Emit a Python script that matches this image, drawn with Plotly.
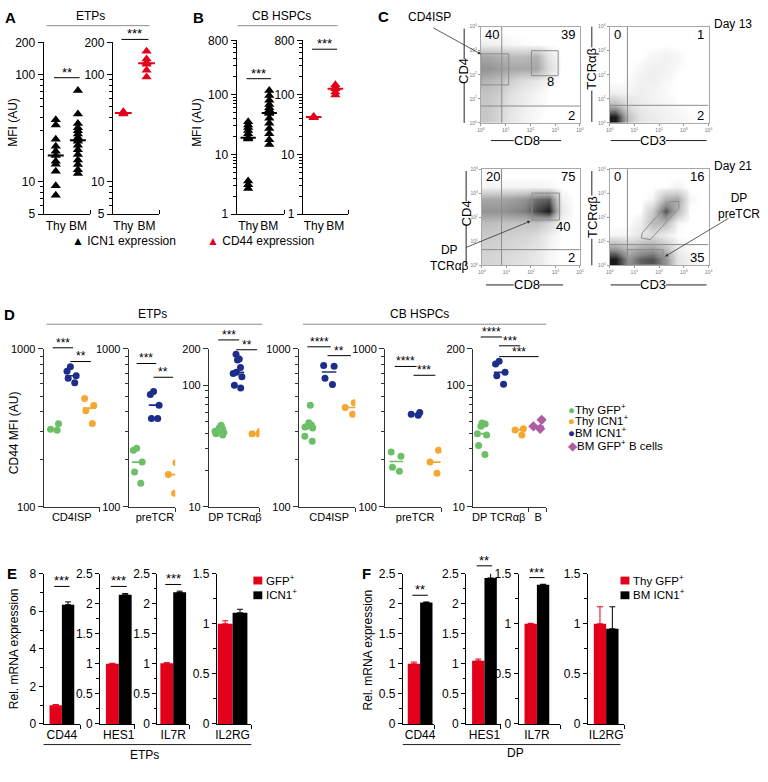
import numpy as np
import plotly.graph_objects as go

W, H = 768, 782
FONT = "Liberation Sans, Arial, Helvetica, sans-serif"

# ---------------- data: panels A / B (MFI, AU) ----------------
AB_groups = ["Thy", "BM"]
A_icn1_thy = [38, 34, 25, 21.5, 19.3, 17.6, 15.6, 14.6, 12.6, 9.2, 7.5]
A_icn1_bm = [71, 43, 35, 32, 30, 28, 26, 25, 24, 22, 20, 18, 16, 14.5, 13, 12]
A_cd44_thy = [45, 44, 43]
A_cd44_bm = [165, 140, 130, 125, 110, 95]
B_icn1_thy = [35, 31, 28, 25, 22, 19, 18.5, 18, 3.6, 3.1, 2.7]
B_icn1_bm = [116, 96, 80, 68, 60, 55, 50, 48, 40, 33, 27, 22, 17.6, 14.6]
B_cd44_thy = [43, 42, 41]
B_cd44_bm = [145, 132, 125, 110, 98]
AB_stars = ["**", "***", "***", "***"]

# ---------------- data: panel C (flow cytometry, density on log10 axes) ----------------
flow_bins = [0.25, 0.75, 1.25, 1.75, 2.25, 2.75, 3.25, 3.75]
flow_ticks = ["10<sup>0</sup>", "10<sup>1</sup>", "10<sup>2</sup>", "10<sup>3</sup>", "10<sup>4</sup>"]
d13_cd4_cd8 = [
    [.28, .18, .08, .04, .01, 0, 0, 0],
    [.28, .20, .10, .05, .02, 0, 0, 0],
    [.30, .24, .12, .07, .03, 0, 0, 0],
    [.38, .32, .22, .14, .08, .02, 0, 0],
    [.55, .50, .45, .45, .45, .15, 0, 0],
    [.45, .40, .35, .35, .40, .10, 0, 0],
    [.05, .04, .02, .01, 0, 0, 0, 0],
    [0, 0, 0, 0, 0, 0, 0, 0]]
d13_tcr_cd3 = [
    [1.0, .30, .10, .06, .04, .03, .01, 0],
    [.35, .12, .06, .04, .03, .01, 0, 0],
    [.04, .03, .05, .03, .01, 0, 0, 0],
    [0, .01, .04, .05, .02, 0, 0, 0],
    [0, 0, .02, .05, .04, .01, 0, 0],
    [0, 0, 0, .02, .04, .02, 0, 0],
    [0, 0, 0, 0, 0, 0, 0, 0],
    [0, 0, 0, 0, 0, 0, 0, 0]]
d21_cd4_cd8 = [
    [.20, .18, .15, .12, .08, .02, 0, 0],
    [.22, .20, .18, .15, .10, .03, 0, 0],
    [.26, .24, .22, .20, .15, .05, 0, 0],
    [.33, .30, .30, .30, .30, .18, 0, 0],
    [.55, .55, .60, .65, .85, 1.0, .08, 0],
    [.45, .45, .50, .55, .70, .75, .04, 0],
    [.03, .03, .03, .03, .03, .02, 0, 0],
    [0, 0, 0, 0, 0, 0, 0, 0]]
d21_tcr_cd3 = [
    [1.0, .55, .75, .80, .55, .10, .03, 0],
    [.45, .30, .40, .45, .30, .05, .01, 0],
    [.02, .03, .10, .15, .05, 0, 0, 0],
    [0, 0, .05, .35, .35, .02, 0, 0],
    [0, 0, 0, .25, .80, .35, 0, 0],
    [0, 0, 0, .02, .40, .45, .02, 0],
    [0, 0, 0, 0, 0, .03, 0, 0],
    [0, 0, 0, 0, 0, 0, 0, 0]]
flow_quadrant_pct = [["40", "39", "2"], ["0", "1", "2"], ["20", "75", "2"], ["0", "16", "35"]]  # UL, UR, LR
flow_quadrant_cut = [(0.84, 0.70), (0.72, 0.73), (0.80, 0.65), (0.72, 0.86)]  # (x, y) log10
flow_gate_pct = ["8", "40"]

# ---------------- data: panel D (CD44 MFI, AU) ----------------
D_subsets = ["CD4ISP", "preTCR", "DP TCRαβ", "CD4ISP", "preTCR", "DP TCRαβ"]
D_series = ["Thy GFP<sup>+</sup>", "Thy ICN1<sup>+</sup>", "BM ICN1<sup>+</sup>", "BM GFP<sup>+</sup> B cells"]
D_thy_gfp = [[335, 310, 305], [235, 228, 192, 166, 141], [47, 45, 44, 43, 42, 41, 40, 39],
             [440, 340, 330, 325, 320, 315, 280, 260], [222, 209, 178, 168], [49, 48, 46, 40, 39, 32, 27]]
D_bm_icn1 = [[770, 720, 675, 650, 610], [536, 514, 440, 362, 362], [180, 165, 162, 140, 128, 125, 118, 100, 95],
             [785, 775, 650, 595], [395, 385, 380], [158, 150, 128, 120, 102]]
D_thy_icn1 = [[485, 437, 406, 337], [190, 160, 122], [42, 40, 40], [455, 425, 385], [228, 192, 163], [44, 43, 39]]
D_bm_gfp_b = [[], [], [], [], [], [52, 46, 44]]
D_stars = [["***", "**"], ["***", "**"], ["***", "**"], ["****", "**"], ["****", "***"], ["****", "***", "***"]]

# ---------------- data: panels E / F (relative mRNA expression) ----------------
genes = ["CD44", "HES1", "IL7R", "IL2RG"]
E_gfp = [1.0, 1.0, 1.01, 1.0]
E_gfp_err = [0.03, 0.01, 0.01, 0.03]
E_icn1 = [6.35, 2.15, 2.19, 1.11]
E_icn1_err = [0.15, 0.02, 0.02, 0.035]
E_stars = ["***", "***", "***", ""]
F_gfp = [1.0, 1.05, 1.0, 1.0]
F_gfp_err = [0.03, 0.03, 0.005, 0.17]
F_icn1 = [2.02, 2.43, 1.39, 0.95]
F_icn1_err = [0.01, 0.16, 0.005, 0.22]
F_stars = ["**", "**", "***", ""]

# ---------------- style ----------------
GREEN, ORANGE, NAVY, PURPLE = "#6cbf66", "#f5a731", "#1c2e8a", "#b05ca5"
RED = "#e3001b"
GREY = "#8c8c8c"
FLOW_CS = [[0, "rgba(255,255,255,0)"], [0.01, "rgba(250,250,250,1)"], [0.06, "#ececec"],
           [0.3, "#c4c4c4"], [0.6, "#8a8a8a"], [1, "#1a1a1a"]]

# subplot geometry in pixels: (x_left, x_right, y_top, y_bottom)
GEO = {
    1: (40, 87, 36, 211), 2: (110, 157, 36, 211), 3: (235, 283, 34, 211), 4: (302, 348, 34, 211),
    5: (482, 582, 20, 118), 6: (612, 712, 20, 118), 7: (483, 582, 165, 263), 8: (612, 712, 165, 263),
    9: (40, 97, 348, 509), 10: (126, 173, 348, 509), 11: (207, 258, 348, 509),
    12: (298, 355, 348, 509), 13: (385, 442, 348, 509), 14: (474, 548, 348, 509),
    15: (40, 77, 577, 730), 16: (97, 132, 577, 730), 17: (155, 187, 577, 730), 18: (215, 250, 577, 730),
    19: (403, 435, 577, 730), 20: (467, 502, 577, 730), 21: (520, 562, 577, 730), 22: (590, 627, 577, 730),
}

fig = go.Figure()
L = dict(width=W, height=H, autosize=False, margin=dict(l=0, r=0, t=0, b=0),
         paper_bgcolor="white", plot_bgcolor="rgba(0,0,0,0)", showlegend=False,
         barmode="overlay", font=dict(family=FONT, size=12, color="black"))
shapes, annos = [], []


def xp(v):
    return v / W


def yp(v):
    return 1 - v / H


def axn(k, a):
    return f"{a}axis" if k == 1 else f"{a}axis{k}"


def rf(k, a):
    return a if k == 1 else f"{a}{k}"


def set_axes(k, xkw, ykw):
    x0, x1, yt, yb = GEO[k]
    base = dict(showgrid=False, zeroline=False, showline=True, linecolor="black", linewidth=1,
                tickcolor="black", tickwidth=1, tickangle=0)
    xa = dict(base, domain=[xp(x0), xp(x1)], anchor=rf(k, "y"))
    xa.update(xkw)
    ya = dict(base, domain=[yp(yb), yp(yt)], anchor=rf(k, "x"))
    ya.update(ykw)
    L[axn(k, "x")] = xa
    L[axn(k, "y")] = ya


def log_y(lo, hi, major, minor, size, color="black"):
    return dict(type="log", range=[np.log10(lo) - 1e-4, np.log10(hi) + 1e-4], tickmode="array",
                tickvals=major, ticktext=[f"{v:g}" for v in major], ticks="outside", ticklen=5,
                tickfont=dict(size=size), linecolor=color, tickcolor=color,
                minor=dict(tickmode="array", tickvals=minor, ticks="outside", ticklen=3, tickcolor=color))


def cat_x(lo, hi, tv, tt, size, end_ticks, color="black", tickdir="outside"):
    return dict(range=[lo, hi], tickmode="array", tickvals=tv, ticktext=tt, ticks="",
                tickfont=dict(size=size), linecolor=color,
                minor=dict(tickmode="array", tickvals=end_ticks, ticks=tickdir, ticklen=4, tickcolor=color))


def text(x, y, s, size=12, xanchor="center", yanchor="middle", angle=0, color="black", bold=False):
    annos.append(dict(xref="paper", yref="paper", x=xp(x), y=yp(y), text=(f"<b>{s}</b>" if bold else s),
                      showarrow=False, xanchor=xanchor, yanchor=yanchor, textangle=angle,
                      font=dict(size=size, color=color, family=FONT)))


def hline(x0, x1, y, color="black", width=1):
    shapes.append(dict(type="line", xref="paper", yref="paper", x0=xp(x0), x1=xp(x1), y0=yp(y), y1=yp(y),
                       line=dict(color=color, width=width)))


def vline(x, y0, y1, color="black", width=1):
    shapes.append(dict(type="line", xref="paper", yref="paper", x0=xp(x), x1=xp(x), y0=yp(y0), y1=yp(y1),
                       line=dict(color=color, width=width)))


def bracket(k, g0, g1, ypx, stars, pad=0.08, size=13):
    shapes.append(dict(type="line", xref=rf(k, "x"), yref="paper", x0=g0 - pad, x1=g1 + pad,
                       y0=yp(ypx), y1=yp(ypx), line=dict(color="black", width=1)))
    annos.append(dict(xref=rf(k, "x"), yref="paper", x=(g0 + g1) / 2, y=yp(ypx + 4), yanchor="bottom",
                      text=stars, showarrow=False, font=dict(size=size, family=FONT)))


def median_line(k, g, vals, color, half=0.33, width=2):
    m = float(np.median(vals))
    fig.add_trace(go.Scatter(x=[g - half, g + half], y=[m, m], mode="lines", cliponaxis=False,
                             line=dict(color=color, width=width), hoverinfo="skip",
                             xaxis=rf(k, "x"), yaxis=rf(k, "y")))


# ================= panels A and B =================
AB_sets = [(1, A_icn1_thy, A_icn1_bm, "black"), (2, A_cd44_thy, A_cd44_bm, RED),
           (3, B_icn1_thy, B_icn1_bm, "black"), (4, B_cd44_thy, B_cd44_bm, RED)]
AB_xr = {1: (-0.55, 1.55), 2: (-0.45, 1.55), 3: (-0.55, 1.7), 4: (-0.5, 1.6)}
AB_star_y = {1: 72, 2: 33, 3: 73, 4: 43}
for (k, thy, bm, col), star in zip(AB_sets, AB_stars):
    for g, vals in enumerate([thy, bm]):
        fig.add_trace(go.Scatter(x=[g] * len(vals), y=vals, mode="markers", cliponaxis=False,
                                 marker=dict(symbol="triangle-up", size=9, color=col, line=dict(width=0)),
                                 xaxis=rf(k, "x"), yaxis=rf(k, "y")))
        median_line(k, g, vals, col, half=0.36, width=2)
    lo, hi = AB_xr[k]
    if k <= 2:
        ya = log_y(5, 200, [5, 10, 100, 200], [6, 7, 8, 9, 20, 30, 40, 50, 60, 70, 80, 90], 12)
    else:
        ya = log_y(1, 800, [1, 10, 100, 800],
                   [2, 3, 4, 5, 6, 7, 8, 9, 20, 30, 40, 50, 60, 70, 80, 90, 200, 300, 400, 500, 600, 700], 12)
    set_axes(k, cat_x(lo, hi, [0, 1], AB_groups, 12, [hi - 1e-3], tickdir="inside"), ya)
    bracket(k, 0, 1, AB_star_y[k], star)

text(7, 11, "A", 15, bold=True)
text(197, 11, "B", 15, bold=True)
text(87, 9, "ETPs", 12)
hline(43, 147, 19, GREY)
text(280, 9, "CB HSPCs", 12)
hline(236, 337, 19, GREY)
text(9, 117, "MFI (AU)", 12, angle=-90)
text(195, 117, "MFI (AU)", 12, angle=-90)
text(67, 238, "<span style='color:black'>▲</span> ICN1 expression", 12, xanchor="left")
text(203, 238, f"<span style='color:{RED}'>▲</span> CD44 expression", 12, xanchor="left")

# ================= panel C (flow) =================
flow_grids = [d13_cd4_cd8, d13_tcr_cd3, d21_cd4_cd8, d21_tcr_cd3]
for i, grid in enumerate(flow_grids):
    k = 5 + i
    fig.add_trace(go.Heatmap(z=grid, x=flow_bins, y=flow_bins, zmin=0, zmax=1, colorscale=FLOW_CS,
                             showscale=False, zsmooth="best", hoverinfo="skip",
                             xaxis=rf(k, "x"), yaxis=rf(k, "y")))
    fa = dict(range=[0, 4], tickmode="array", tickvals=[0, 1, 2, 3, 4], ticktext=flow_ticks,
              ticks="outside", ticklen=2, tickcolor="#999", tickfont=dict(size=5, color="#777"),
              linecolor="#a8a8a8", mirror=True)
    set_axes(k, dict(fa), dict(fa))
    qx, qy = flow_quadrant_cut[i]
    for sh in [dict(x0=qx, x1=qx, y0=0, y1=4), dict(x0=0, x1=4, y0=qy, y1=qy)]:
        shapes.append(dict(type="line", xref=rf(k, "x"), yref=rf(k, "y"), line=dict(color=GREY, width=1), **sh))
    ul, ur, lr = flow_quadrant_pct[i]
    for s, x, y, xa in [(ul, 0.1, 3.68, "left"), (ur, 3.9, 3.68, "right"), (lr, 3.9, 0.32, "right")]:
        annos.append(dict(xref=rf(k, "x"), yref=rf(k, "y"), x=x, y=y, text=s, showarrow=False,
                          xanchor=xa, font=dict(size=13)))

# gates
gate_line = dict(color=GREY, width=1)
shapes.append(dict(type="rect", xref="x5", yref="y5", x0=0, x1=1.12, y0=1.58, y1=2.87, line=gate_line))
shapes.append(dict(type="rect", xref="x5", yref="y5", x0=2.04, x1=3.12, y0=1.96, y1=3.0, line=gate_line))
shapes.append(dict(type="rect", xref="x7", yref="y7", x0=2.04, x1=3.16, y0=1.88, y1=3.0, line=gate_line))
shapes.append(dict(type="rect", xref="x8", yref="y8", x0=0.72, x1=2.16, y0=0.02, y1=0.65, line=gate_line))
shapes.append(dict(type="path", xref="x8", yref="y8", line=gate_line,
                   path="M 1.28 1.14 L 1.32 1.35 L 2.44 2.65 L 2.8 2.65 L 2.8 2.37 L 1.64 1.06 Z"))
annos.append(dict(xref="x5", yref="y5", x=2.8, y=1.71, text=flow_gate_pct[0], showarrow=False, font=dict(size=13)))
annos.append(dict(xref="x7", yref="y7", x=3.3, y=1.63, text=flow_gate_pct[1], showarrow=False, font=dict(size=13)))

text(383, 10, "C", 15, bold=True)
text(715, 17, "Day 13", 12, xanchor="left")
text(715, 162, "Day 21", 12, xanchor="left")
text(430, 10, "CD4ISP", 12)
text(450, 256, "DP<br>TCRαβ", 12)
text(743, 203, "DP<br>preTCR", 12)
for hx, hy, tx, ty in [(482, 48, 433, 21), (532, 218, 466, 245), (668, 254, 733, 215)]:
    annos.append(dict(xref="paper", yref="paper", x=xp(hx), y=yp(hy), ax=tx - hx, ay=ty - hy, text="",
                      showarrow=True, arrowhead=2, arrowsize=0.8, arrowwidth=0.8, arrowcolor="#333"))

# axis labels with side lines
for (lab, cx, y, x0, x1, gap) in [("CD8", 528, 136, 492, 563, 13), ("CD3", 656, 136, 613, 710, 13),
                                   ("CD8", 528, 283, 487, 565, 13), ("CD3", 656, 283, 613, 710, 13)]:
    text(cx, y, lab, 13)
    hline(x0, cx - gap, y, "#222")
    hline(cx + gap, x1, y, "#222")
for (lab, x, cy, y0, y1, gap) in [("CD4", 465, 65, 22, 118, 12), ("TCRαβ", 594, 63, 20, 117, 22),
                                   ("CD4", 467, 210, 167, 263, 12), ("TCRαβ", 594, 214, 167, 263, 22)]:
    text(x, cy, lab, 13, angle=-90)
    vline(x, y0, cy - gap, "#222")
    vline(x, cy + gap, y1, "#222")

# ================= panel D =================
D_xr = [(-0.6, 2.6), (-0.55, 2.2), (-0.6, 2.2), (-0.5, 2.3), (-0.6, 2.4), (-0.5, 3.5)]
D_label_x = [[1], [1], [0.85], [1], [1], [0.9, 3.05]]
D_star_y = [[347, 361], [363, 377], [339, 349], [346, 355], [366, 375], [336, 345, 356]]
D_star_pairs = [(0, 1), (1, 2), (1, 3)]
for i in range(6):
    k = 9 + i
    series = [(D_thy_gfp[i], GREEN, "circle"), (D_bm_icn1[i], NAVY, "circle"),
              (D_thy_icn1[i], ORANGE, "circle"), (D_bm_gfp_b[i], PURPLE, "diamond")]
    for g, (vals, col, sym) in enumerate(series):
        if not vals:
            continue
        fig.add_trace(go.Box(x=[g] * len(vals), y=vals, boxpoints="all", jitter=0.8, pointpos=0, width=0.8,
                             fillcolor="rgba(0,0,0,0)", line=dict(color="rgba(0,0,0,0)", width=0),
                             whiskerwidth=0, hoveron="points",
                             marker=dict(color=col, size=7 if sym == "circle" else 8, symbol=sym,
                                         line=dict(width=0)),
                             xaxis=rf(k, "x"), yaxis=rf(k, "y")))
        median_line(k, g, vals, col, half=0.36, width=1.6)
    lo, hi = D_xr[i]
    if i in (2, 5):
        ya = log_y(10, 200, [10, 100, 200], [20, 30, 40, 50, 60, 70, 80, 90], 11, "#333")
    else:
        ya = log_y(100, 1000, [100, 1000], [200, 300, 400, 500, 600, 700, 800, 900], 11, "#333")
    labels = [D_subsets[i]] if i != 5 else [D_subsets[i], "B"]
    ends = [hi - 1e-3] if i != 5 else [2.53, hi - 1e-3]
    set_axes(k, cat_x(lo, hi, D_label_x[i], labels, 11, ends, "#333"), ya)
    for (g0, g1), s, yy in zip(D_star_pairs, D_stars[i], D_star_y[i]):
        bracket(k, g0, g1, yy, s, size=12)

text(6, 313, "D", 15, bold=True)
text(150, 313, "ETPs", 12)
hline(43, 261, 323, GREY)
text(420, 313, "CB HSPCs", 12)
hline(302, 548, 323, GREY)
text(10, 433, "CD44 MFI (AU)", 12, angle=-90)
for lab, col, sym, yy in zip(D_series, [GREEN, ORANGE, NAVY, PURPLE], ["●", "●", "●", "◆"],
                             [409, 421, 433, 446]):
    text(568, yy, f"<span style='color:{col}'>{sym}</span>{lab}", 11.5, xanchor="left")

# ================= panels E and F =================
E_ymax = [8, 2.5, 2.5, 1.5]
F_ymax = [2.5, 2.5, 1.5, 1.5]
E_xr = [(-0.98, 1.98), (-0.96, 1.73), (-0.73, 1.73), (-0.57, 1.77)]
F_xr = [(-0.9, 1.66), (-0.98, 1.82), (-0.98, 2.38), (-0.98, 1.98)]
E_star_y = [590, 590, 588, 0]
F_star_y = [599, 569, 581, 0]


def y_lin(ymax, size=12):
    if ymax == 8:
        major, minor = [0, 2, 4, 6, 8], [1, 3, 5, 7]
    else:
        major = list(np.arange(0, ymax + 0.01, 0.5))
        minor = list(np.arange(0.25, ymax, 0.5))
    return dict(range=[0, ymax * 1.0005], tickmode="array", tickvals=major,
                ticktext=[f"{v:g}" for v in major], ticks="outside", ticklen=4,
                tickfont=dict(size=size),
                minor=dict(tickmode="array", tickvals=minor, ticks="outside", ticklen=2.5, tickcolor="black"))


for base_k, gfp, gerr, icn, ierr, ymaxs, xrs, stars, sy in [
        (15, E_gfp, E_gfp_err, E_icn1, E_icn1_err, E_ymax, E_xr, E_stars, E_star_y),
        (19, F_gfp, F_gfp_err, F_icn1, F_icn1_err, F_ymax, F_xr, F_stars, F_star_y)]:
    for j in range(4):
        k = base_k + j
        for g, val, err, col in [(0, gfp[j], gerr[j], RED), (1, icn[j], ierr[j], "black")]:
            fig.add_trace(go.Bar(x=[g], y=[val], width=1, marker=dict(color=col, line=dict(width=0)),
                                 error_y=dict(type="data", array=[err], arrayminus=[0], symmetric=False,
                                              color=col, thickness=1, width=3),
                                 xaxis=rf(k, "x"), yaxis=rf(k, "y")))
        lo, hi = xrs[j]
        set_axes(k, cat_x(lo, hi, [0.5], [genes[j]], 12, [hi - 1e-3]), y_lin(ymaxs[j]))
        if stars[j]:
            bracket(k, 0, 1, sy[j], stars[j], pad=0.12, size=13)

text(8, 577, "E", 15, bold=True)
text(366, 577, "F", 15, bold=True)
text(10, 653, "Rel. mRNA expression", 12, angle=-90)
text(368, 655, "Rel. mRNA expression", 12, angle=-90)
hline(40, 250, 751, "#222")
text(142, 762, "ETPs", 12)
hline(403, 623, 751, "#222")
text(517, 760, "DP", 12)
# legends for E and F
for (x0, y0, col, lab) in [(252, 584, RED, "GFP<sup>+</sup>"), (252, 599, "black", "ICN1<sup>+</sup>"),
                           (623, 584, RED, "Thy GFP<sup>+</sup>"), (623, 599, "black", "BM ICN1<sup>+</sup>")]:
    shapes.append(dict(type="rect", xref="paper", yref="paper", x0=xp(x0), x1=xp(x0 + 9),
                       y0=yp(y0 + 4), y1=yp(y0 - 4), fillcolor=col, line=dict(width=0)))
    text(x0 + 11, y0 - 1, lab, 11.5, xanchor="left")

L["shapes"] = shapes
L["annotations"] = annos
fig.update_layout(**L)
fig.write_html("out.html", config={"displayModeBar": False},
               post_script="document.body.style.margin='0px';document.body.style.padding='0px';")
